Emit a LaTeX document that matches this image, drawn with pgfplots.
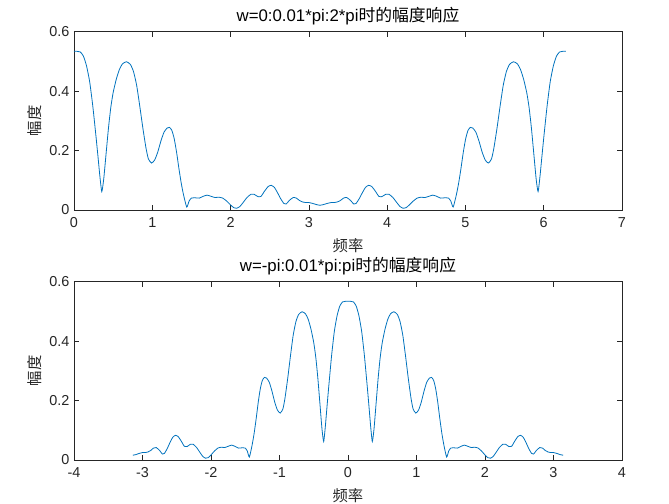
\documentclass[border=0pt]{standalone}
\usepackage{fontspec}
\setmainfont{Liberation Sans}
\newfontfamily\cjk{Noto Sans CJK SC}
\usepackage{pgfplots}
\usepackage{pgfplotstable}
\pgfplotsset{compat=1.18}
\definecolor{mblue}{rgb}{0,0.447,0.741}
\definecolor{mgray}{rgb}{0.15,0.15,0.15}

\pgfplotstableread{
w m
0.00 0.534
0.04 0.534
0.08 0.532
0.12 0.518
0.16 0.485
0.20 0.432
0.24 0.350
0.28 0.250
0.31 0.170
0.33 0.115
0.355 0.062
0.38 0.105
0.41 0.190
0.44 0.275
0.47 0.345
0.50 0.395
0.54 0.440
0.58 0.473
0.62 0.492
0.67 0.499
0.72 0.490
0.76 0.466
0.80 0.420
0.84 0.350
0.88 0.275
0.92 0.208
0.95 0.172
0.99 0.158
1.03 0.168
1.07 0.195
1.11 0.232
1.15 0.262
1.19 0.276
1.22 0.278
1.25 0.268
1.28 0.240
1.31 0.195
1.34 0.140
1.37 0.090
1.40 0.050
1.44 0.010
1.47 0.030
1.50 0.040
1.55 0.041
1.60 0.040
1.65 0.046
1.70 0.050
1.75 0.046
1.80 0.042
1.85 0.043
1.90 0.040
1.95 0.030
2.00 0.017
2.04 0.008
2.08 0.006
2.12 0.012
2.16 0.025
2.21 0.042
2.26 0.053
2.30 0.053
2.35 0.045
2.39 0.046
2.43 0.062
2.48 0.079
2.52 0.083
2.56 0.076
2.60 0.058
2.64 0.038
2.68 0.022
2.71 0.020
2.75 0.032
2.80 0.042
2.84 0.040
2.88 0.032
2.92 0.027
2.96 0.025
3.00 0.025
3.05 0.022
3.10 0.018
3.1416 0.016
3.1832 0.018
3.2332 0.022
3.2832 0.025
3.3232 0.025
3.3632 0.027
3.4032 0.032
3.4432 0.040
3.4832 0.042
3.5332 0.032
3.5732 0.020
3.6032 0.022
3.6432 0.038
3.6832 0.058
3.7232 0.076
3.7632 0.083
3.8032 0.079
3.8532 0.062
3.8932 0.046
3.9332 0.045
3.9832 0.053
4.0232 0.053
4.0732 0.042
4.1232 0.025
4.1632 0.012
4.2032 0.006
4.2432 0.008
4.2832 0.017
4.3332 0.030
4.3832 0.040
4.4332 0.043
4.4832 0.042
4.5332 0.046
4.5832 0.050
4.6332 0.046
4.6832 0.040
4.7332 0.041
4.7832 0.040
4.8132 0.030
4.8432 0.010
4.8832 0.050
4.9132 0.090
4.9432 0.140
4.9732 0.195
5.0032 0.240
5.0332 0.268
5.0632 0.278
5.0932 0.276
5.1332 0.262
5.1732 0.232
5.2132 0.195
5.2532 0.168
5.2932 0.158
5.3332 0.172
5.3632 0.208
5.4032 0.275
5.4432 0.350
5.4832 0.420
5.5232 0.466
5.5632 0.490
5.6132 0.499
5.6632 0.492
5.7032 0.473
5.7432 0.440
5.7832 0.395
5.8132 0.345
5.8432 0.275
5.8732 0.190
5.9032 0.105
5.9282 0.062
5.9532 0.115
5.9732 0.170
6.0032 0.250
6.0432 0.350
6.0832 0.432
6.1232 0.485
6.1632 0.518
6.2032 0.532
6.2432 0.534
6.2832 0.534
}\topdata

\pgfplotstableread{
w m
-3.1416 0.016
-3.10 0.018
-3.05 0.022
-3.00 0.025
-2.96 0.025
-2.92 0.027
-2.88 0.032
-2.84 0.040
-2.80 0.042
-2.75 0.032
-2.71 0.020
-2.68 0.022
-2.64 0.038
-2.60 0.058
-2.56 0.076
-2.52 0.083
-2.48 0.079
-2.43 0.062
-2.39 0.046
-2.35 0.045
-2.30 0.053
-2.26 0.053
-2.21 0.042
-2.16 0.025
-2.12 0.012
-2.08 0.006
-2.04 0.008
-2.00 0.017
-1.95 0.030
-1.90 0.040
-1.85 0.043
-1.80 0.042
-1.75 0.046
-1.70 0.050
-1.65 0.046
-1.60 0.040
-1.55 0.041
-1.50 0.040
-1.47 0.030
-1.44 0.010
-1.40 0.050
-1.37 0.090
-1.34 0.140
-1.31 0.195
-1.28 0.240
-1.25 0.268
-1.22 0.278
-1.19 0.276
-1.15 0.262
-1.11 0.232
-1.07 0.195
-1.03 0.168
-0.99 0.158
-0.95 0.172
-0.92 0.208
-0.88 0.275
-0.84 0.350
-0.80 0.420
-0.76 0.466
-0.72 0.490
-0.67 0.499
-0.62 0.492
-0.58 0.473
-0.54 0.440
-0.50 0.395
-0.47 0.345
-0.44 0.275
-0.41 0.190
-0.38 0.105
-0.355 0.062
-0.33 0.115
-0.31 0.170
-0.28 0.250
-0.24 0.350
-0.20 0.432
-0.16 0.485
-0.12 0.518
-0.08 0.532
-0.04 0.534
0.00 0.534
0.04 0.534
0.08 0.532
0.12 0.518
0.16 0.485
0.20 0.432
0.24 0.350
0.28 0.250
0.31 0.170
0.33 0.115
0.355 0.062
0.38 0.105
0.41 0.190
0.44 0.275
0.47 0.345
0.50 0.395
0.54 0.440
0.58 0.473
0.62 0.492
0.67 0.499
0.72 0.490
0.76 0.466
0.80 0.420
0.84 0.350
0.88 0.275
0.92 0.208
0.95 0.172
0.99 0.158
1.03 0.168
1.07 0.195
1.11 0.232
1.15 0.262
1.19 0.276
1.22 0.278
1.25 0.268
1.28 0.240
1.31 0.195
1.34 0.140
1.37 0.090
1.40 0.050
1.44 0.010
1.47 0.030
1.50 0.040
1.55 0.041
1.60 0.040
1.65 0.046
1.70 0.050
1.75 0.046
1.80 0.042
1.85 0.043
1.90 0.040
1.95 0.030
2.00 0.017
2.04 0.008
2.08 0.006
2.12 0.012
2.16 0.025
2.21 0.042
2.26 0.053
2.30 0.053
2.35 0.045
2.39 0.046
2.43 0.062
2.48 0.079
2.52 0.083
2.56 0.076
2.60 0.058
2.64 0.038
2.68 0.022
2.71 0.020
2.75 0.032
2.80 0.042
2.84 0.040
2.88 0.032
2.92 0.027
2.96 0.025
3.00 0.025
3.05 0.022
3.10 0.018
3.1416 0.016
}\botdata

\pgfplotsset{
  mstyle/.style={
    scale only axis,
    width=411pt, height=133.7pt,
    axis line style={mgray, line width=0.5pt},
    tick style={mgray, line width=0.5pt},
    tick align=inside,
    major tick length=4pt,
    xtick pos=both, ytick pos=both,
    ymin=0, ymax=0.6,
    ytick={0,0.2,0.4,0.6},
    yticklabels={0,0.2,0.4,0.6},
    tick label style={font=\fontsize{10.8}{12}\selectfont, text=mgray},
    xticklabel style={yshift=-2pt},
    /pgf/number format/assume math mode=true,
    title style={font=\fontsize{12.6}{14}\selectfont, text=black,
      at={(axis description cs:0.5,1.04)}, anchor=center},
    xlabel style={font=\fontsize{11.5}{13}\selectfont\cjk, text=mgray,
      at={(axis description cs:0.5,-0.2)}, anchor=center},
    ylabel style={font=\fontsize{11.5}{13}\selectfont\cjk, text=mgray,
      at={(axis description cs:-0.071,0.5)}, anchor=center, rotate=0},
    xlabel={频率}, ylabel={幅度},
  }
}

\begin{document}
\begin{tikzpicture}
\useasboundingbox (0,0) rectangle (501.75pt,378pt);
\begin{axis}[mstyle,
  at={(55.5pt,354.2pt)}, anchor=north west,
  xmin=0, xmax=7, xtick={0,1,2,3,4,5,6,7},
  xticklabels={0,1,2,3,4,5,6,7},
  title={w=0:0.01*pi:2*pi{\cjk 时的幅度响应}}]
\addplot[color=mblue, line width=0.6pt, no markers, smooth, tension=0.35] table[x=w, y=m] {\topdata};
\end{axis}
\begin{axis}[mstyle,
  at={(55.5pt,166.7pt)}, anchor=north west,
  xmin=-4, xmax=4, xtick={-4,-3,-2,-1,0,1,2,3,4},
  xticklabels={-4,-3,-2,-1,0,1,2,3,4},
  title={w=-pi:0.01*pi:pi{\cjk 时的幅度响应}}]
\addplot[color=mblue, line width=0.6pt, no markers, smooth, tension=0.35] table[x=w, y=m] {\botdata};
\end{axis}
\end{tikzpicture}
\end{document}
